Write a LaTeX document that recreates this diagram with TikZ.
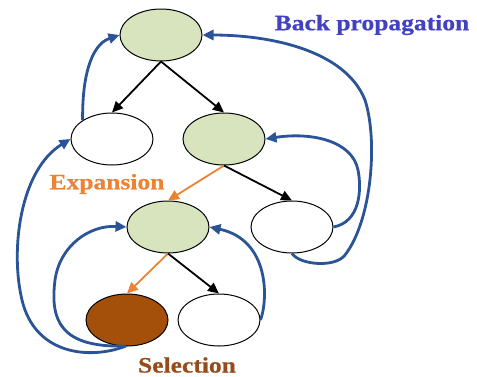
\documentclass[tikz,border=0pt]{standalone}
\usepackage{fontspec}
\setmainfont{Liberation Serif}
\newfontfamily\labfont[FakeStretch=1.16,FakeBold=0.6]{Liberation Serif}
\usetikzlibrary{shapes.geometric,arrows.meta}
\definecolor{leafgreen}{RGB}{215,228,189}
\definecolor{selbrown}{RGB}{165,80,10}
\definecolor{backblue}{RGB}{42,84,150}
\definecolor{backtext}{RGB}{66,66,192}
\definecolor{exporange}{RGB}{236,130,50}
\definecolor{seltext}{RGB}{150,76,26}
\tikzset{
  treenode/.style={ellipse, draw=black, line width=1pt, inner sep=0pt,
    minimum width=82pt, minimum height=52pt},
  greennode/.style={treenode, fill=leafgreen},
  blanknode/.style={treenode, fill=white},
  chosennode/.style={treenode, fill=selbrown},
  treeedge/.style={line width=1.8pt, -{Triangle[length=11pt,width=10pt]}},
  expandedge/.style={treeedge, draw=exporange},
  backup/.style={line width=2.8pt, draw=backblue, -{Triangle[length=11pt,width=10pt]}},
  steplabel/.style={font=\labfont\bfseries\fontsize{22}{26}\selectfont, inner sep=0pt}
}
\begin{document}
\begin{tikzpicture}[x=1pt,y=-1pt]
\path[use as bounding box] (0,0) rectangle (477,376);

% tree nodes
\node[greennode]  (root) at (161,35) {};
\node[blanknode]  (l1)   at (112,139) {};
\node[greennode]  (r1)   at (224,139) {};
\node[greennode]  (m2)   at (168,227) {};
\node[blanknode]  (r2)   at (292,227) {};
\node[chosennode] (sel)  at (127,320) {};
\node[blanknode]  (b2)   at (219,320) {};

% tree edges
\draw[treeedge] (root.south) -- (l1.north);
\draw[treeedge] (root.south) -- (r1.north);
\draw[expandedge] (r1.south) -- (m2.north);
\draw[treeedge] (r1.south) -- (r2.north);
\draw[expandedge] (m2.south) -- (sel.north);
\draw[treeedge] (m2.south) -- (b2.north);

% back propagation paths
\coordinate (selfoot) at (126,346);
\draw[backup] (l1.north west) .. controls (82,80) and (90,45) .. (root.west);
\draw[backup] (selfoot) .. controls (90,360) and (35,355) .. (22,300)
              .. controls (10,250) and (20,170) .. (l1.west);
\draw[backup] (selfoot) .. controls (60,348) and (50,320) .. (55,280)
              .. controls (60,245) and (90,225) .. (m2.west);
\draw[backup] (b2.east) .. controls (268,300) and (270,240) .. (m2.east);
\draw[backup] (r2.east) .. controls (360,222) and (362,190) .. (358,170)
              .. controls (352,140) and (310,132) .. (r1.east);
\draw[backup] (r2.south) .. controls (300,265) and (335,268) .. (345,255)
              .. controls (372,220) and (378,140) .. (365,100)
              .. controls (345,50) and (270,35) .. (root.east);

% step labels
\node[steplabel, text=backtext]  (lbback) at (372,25)  {Back propagation};
\node[steplabel, text=exporange] (lbexp)  at (107,184) {Expansion};
\node[steplabel, text=seltext]   (lbsel)  at (187,365) {Selection};
\end{tikzpicture}
\end{document}
